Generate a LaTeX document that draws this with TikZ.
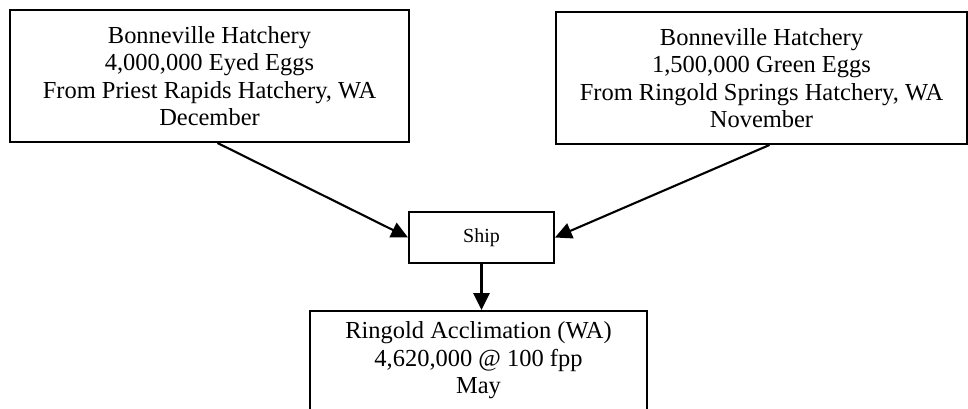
\documentclass[tikz,border=0pt]{standalone}
\usepackage{fontspec}
\setmainfont{Liberation Serif}
\usetikzlibrary{positioning, calc, arrows.meta}

\tikzset{
  stage/.style={draw, line width=1.4pt, inner sep=0pt, align=center,
    font=\fontsize{17.4}{19.5}\selectfont},
  flow/.style={-{Triangle[length=0.42cm, width=0.4cm]}, line width=1.5pt},
}

\begin{document}
\begin{tikzpicture}
        \useasboundingbox (0,0) rectangle (24.2,10.225);
        \coordinate (pr)   at (5.2375,8.325);
        \coordinate (rs)   at (19.0375,8.275);
        \coordinate (mid)  at (12.0375,4.2875);
        \coordinate (acc)  at (11.9625,2.475);

        \node[stage, minimum width=9.975cm, minimum height=3.3cm] (priest) at (pr)
          {Bonneville Hatchery\\4,000,000 Eyed Eggs\\From Priest Rapids Hatchery, WA\\December};   %left
        \node[stage, minimum width=10.275cm, minimum height=3.3cm] (ringoldsp) at (rs)
          {Bonneville Hatchery\\1,500,000 Green Eggs\\From Ringold Springs Hatchery, WA\\November};  %right
        \node[stage, minimum width=3.625cm, minimum height=1.275cm,
          font=\fontsize{14.2}{16}\selectfont] (ship) at (mid) {Ship};   %center
        \node[stage, anchor=north, minimum width=8.425cm, inner ysep=0.275cm,
          text depth=1.2cm] (accl) at (acc)
          {Ringold Acclimation (WA)\\4,620,000 @ 100 fpp\\May};   %bottom

        \draw[flow] ($ (priest.south) + (0.2,0) $) to (ship.west);
        \draw[flow] ($ (ringoldsp.south) + (0.2,0) $) to (ship.east);
        \draw[flow] (ship.south) to (ship.south |- accl.north);
\end{tikzpicture}
\end{document}
